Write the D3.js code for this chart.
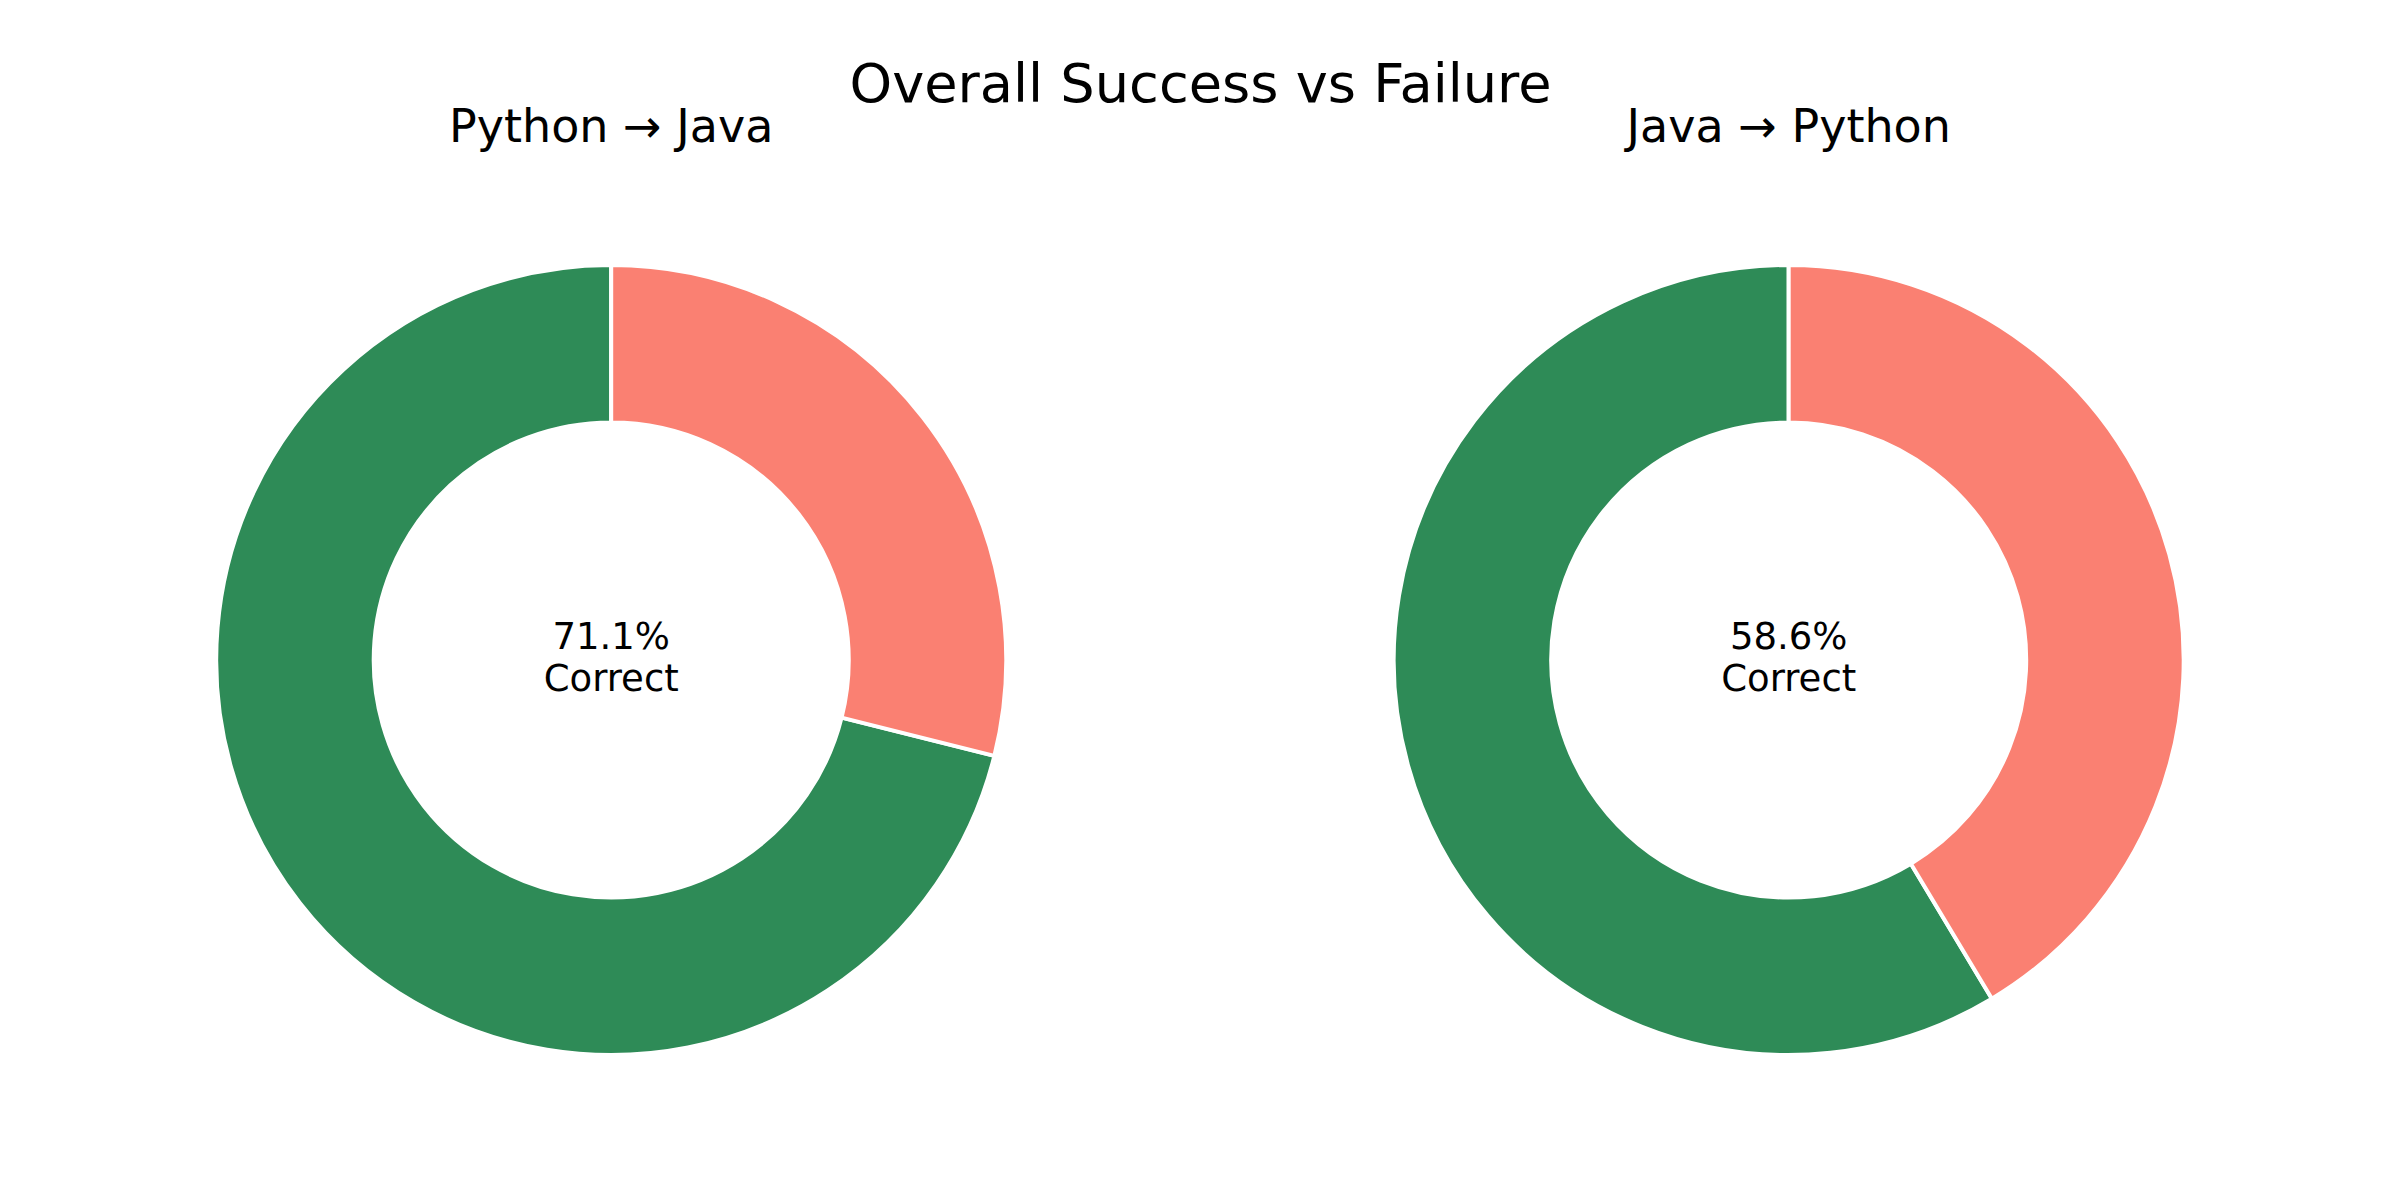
<!DOCTYPE html>
<html>
<head>
<meta charset="utf-8">
<script src="https://cdn.jsdelivr.net/npm/d3@7"></script>
<style>
  html, body { margin: 0; padding: 0; background: #fff; }
  svg { display: block; }
  text { font-family: "DejaVu Sans", sans-serif; fill: #000; }
</style>
</head>
<body>
<svg id="chart" width="2400" height="1200"></svg>
<script>
// ---- data ----
const chartTitle = "Overall Success vs Failure";
const panelTitles = ["Python \u2192 Java", "Java \u2192 Python"];
const categories = ["Correct", "Incorrect"];
const correctPct = [71.1, 58.6];
const incorrectPct = [28.9, 41.4];
const sliceColors = ["#2E8B57", "#FA8072"];

// ---- layout ----
const W = 2400, H = 1200;
const svg = d3.select("#chart");
svg.append("rect").attr("width", W).attr("height", H).attr("fill", "#fff");

const panelX = d3.scalePoint().domain(d3.range(panelTitles.length)).range([611.2, 1788.7]);
const cy = 660;
const outerR = 395, innerR = 237.5;

svg.append("text")
  .attr("x", 1200.5).attr("y", 101.7)
  .attr("text-anchor", "middle")
  .style("font-size", "54.2px")
  .text(chartTitle);

const pie = d3.pie().sort(null).value(d => d.value).startAngle(0).endAngle(-2 * Math.PI);
const arc = d3.arc().innerRadius(innerR).outerRadius(outerR);
const color = d3.scaleOrdinal().domain(categories).range(sliceColors);

panelTitles.forEach((t, i) => {
  const cx = panelX(i);
  const g = svg.append("g").attr("transform", `translate(${cx},${cy})`);
  const data = [
    { cat: categories[0], value: correctPct[i] },
    { cat: categories[1], value: incorrectPct[i] }
  ];
  g.selectAll("path").data(pie(data)).join("path")
    .attr("d", arc)
    .attr("fill", d => color(d.data.cat))
    .attr("stroke", "#fff")
    .attr("stroke-width", 4)
    .attr("stroke-linejoin", "miter");

  svg.append("text")
    .attr("x", cx).attr("y", 141.7)
    .attr("text-anchor", "middle")
    .style("font-size", "46px")
    .text(t);

  const lbl = g.append("text").attr("text-anchor", "middle").style("font-size", "37px");
  lbl.append("tspan").attr("x", 0).attr("y", 649.3 - cy).text(correctPct[i].toFixed(1) + "%");
  lbl.append("tspan").attr("x", 0).attr("y", 690.8 - cy).text(categories[0]);
});
</script>
</body>
</html>
